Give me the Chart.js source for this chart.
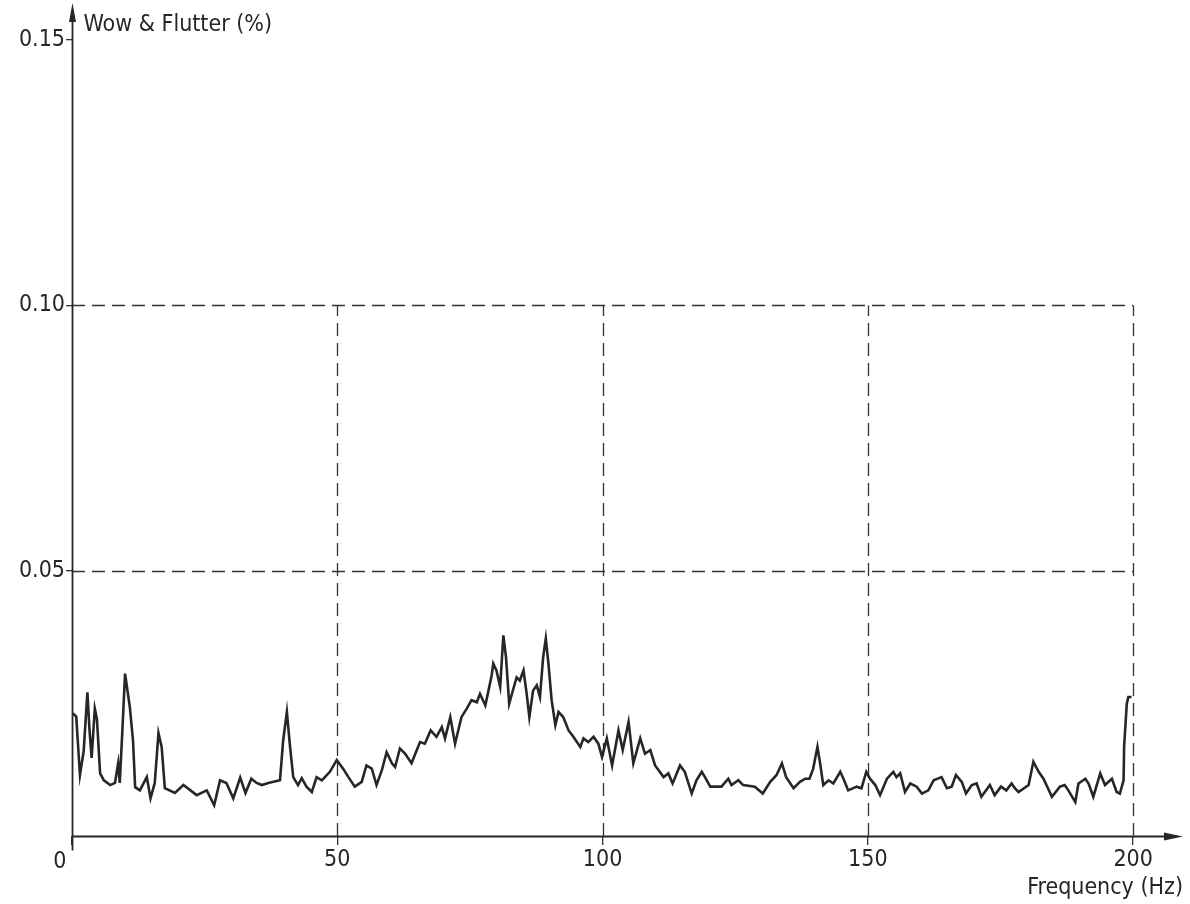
<!DOCTYPE html>
<html>
<head>
<meta charset="utf-8">
<title>Wow & Flutter spectrum</title>
<script src="https://cdn.jsdelivr.net/npm/chart.js@4"></script>
<style>
  body { margin: 0; background: #fff; }
  canvas { display: block; }
</style>
</head>
<body>
<canvas id="flutterChart" width="1190" height="904"></canvas>
<script>
// Values: frequency (Hz) and wow & flutter (%)
const freqHz = [
  0.2, 0.8, 1.5, 2.2, 2.9, 3.3, 3.7, 4.3, 4.7, 5.3, 6.0, 7.2, 8.1, 8.7, 9.0, 9.5,
  10.0, 10.9, 11.5, 11.9, 12.8, 14.1, 14.8, 15.6, 16.3, 16.9, 17.5, 19.4, 21.0, 23.5,
  25.4, 26.8, 27.9, 29.1, 30.4, 31.7, 32.7, 33.8, 34.8, 35.8, 37.0, 39.2, 39.8, 40.5,
  41.1, 41.7, 42.6, 43.3, 44.2, 45.2, 46.1, 47.1, 48.6, 49.9, 51.1, 52.1, 53.3, 54.6,
  55.5, 56.5, 57.4, 58.4, 59.3, 60.3, 60.9, 61.8, 62.8, 64.0, 64.7, 65.6, 66.5, 67.6,
  68.7, 69.7, 70.3, 71.3, 72.2, 73.4, 74.4, 75.3, 76.3, 76.9, 77.9, 78.5, 79.1, 79.4,
  80.0, 80.7, 81.3, 81.8, 82.4, 83.2, 83.8, 84.4, 85.1, 85.7, 86.2, 86.9, 87.6, 88.2,
  88.8, 89.3, 89.8, 90.4, 91.1, 91.7, 92.6, 93.6, 94.5, 95.8, 96.4, 97.3, 98.3, 99.2,
  99.9, 100.8, 101.8, 103.0, 103.8, 104.9, 105.8, 107.1, 108.0, 109.0, 109.9, 111.5,
  112.4, 113.2, 114.6, 115.5, 116.8, 117.7, 118.7, 119.3, 120.3, 122.4, 123.7, 124.3,
  125.6, 126.5, 128.7, 130.2, 131.6, 132.8, 133.8, 134.6, 136.0, 137.2, 138.2, 139.0,
  139.7, 140.5, 141.0, 141.6, 142.6, 143.5, 144.8, 145.4, 146.3, 147.9, 148.8, 149.7,
  150.4, 151.4, 152.3, 153.6, 154.8, 155.4, 156.1, 157.0, 158.0, 159.2, 160.2, 161.4,
  162.4, 163.9, 164.9, 165.8, 166.6, 167.7, 168.5, 169.6, 170.5, 171.4, 173.0, 173.9,
  175.1, 176.1, 177.1, 177.7, 178.4, 180.3, 181.2, 182.2, 183.1, 184.7, 186.2, 187.1,
  187.8, 189.1, 189.7, 191.0, 191.6, 192.5, 193.8, 194.7, 196.0, 196.9, 197.5, 198.2,
  198.3, 198.8, 199.1, 199.7
];
const flutterPct = [
  0.0231, 0.0225, 0.0115, 0.0160, 0.0271, 0.0200, 0.0147, 0.0240, 0.0220, 0.0118, 0.0105, 0.0096, 0.0100, 0.0137, 0.0100, 0.0200,
  0.0306, 0.0243, 0.0180, 0.0092, 0.0086, 0.0111, 0.0071, 0.0100, 0.0194, 0.0168, 0.0090, 0.0081, 0.0096, 0.0077,
  0.0086, 0.0058, 0.0105, 0.0100, 0.0071, 0.0110, 0.0081, 0.0108, 0.0100, 0.0096, 0.0100, 0.0105, 0.0180, 0.0234,
  0.0168, 0.0111, 0.0096, 0.0109, 0.0093, 0.0083, 0.0111, 0.0105, 0.0121, 0.0143, 0.0127, 0.0111, 0.0093, 0.0102,
  0.0133, 0.0127, 0.0096, 0.0124, 0.0158, 0.0137, 0.0130, 0.0165, 0.0155, 0.0137, 0.0155, 0.0177, 0.0174, 0.0199,
  0.0187, 0.0205, 0.0184, 0.0224, 0.0174, 0.0224, 0.0240, 0.0256, 0.0252, 0.0268, 0.0246, 0.0274, 0.0303, 0.0325,
  0.0312, 0.0281, 0.0378, 0.0337, 0.0249, 0.0278, 0.0299, 0.0293, 0.0312, 0.0268, 0.0224, 0.0274, 0.0284, 0.0262,
  0.0337, 0.0372, 0.0325, 0.0256, 0.0209, 0.0234, 0.0224, 0.0199, 0.0187, 0.0168, 0.0184, 0.0177, 0.0187, 0.0174,
  0.0149, 0.0184, 0.0133, 0.0199, 0.0162, 0.0215, 0.0137, 0.0184, 0.0155, 0.0162, 0.0133, 0.0111,
  0.0118, 0.0099, 0.0133, 0.0121, 0.0080, 0.0105, 0.0121, 0.0111, 0.0093, 0.0093, 0.0108, 0.0096,
  0.0105, 0.0096, 0.0093, 0.0080, 0.0102, 0.0115, 0.0137, 0.0111, 0.0090, 0.0102, 0.0108, 0.0108,
  0.0127, 0.0168, 0.0137, 0.0096, 0.0105, 0.0099, 0.0121, 0.0108, 0.0086, 0.0093, 0.0090, 0.0121,
  0.0108, 0.0096, 0.0077, 0.0108, 0.0121, 0.0111, 0.0118, 0.0083, 0.0099, 0.0093, 0.0080, 0.0086,
  0.0105, 0.0111, 0.0090, 0.0093, 0.0115, 0.0102, 0.0080, 0.0096, 0.0099, 0.0074, 0.0096, 0.0077,
  0.0093, 0.0086, 0.0099, 0.0090, 0.0083, 0.0096, 0.0140, 0.0121, 0.0108, 0.0074, 0.0093, 0.0096,
  0.0086, 0.0064, 0.0099, 0.0108, 0.0099, 0.0074, 0.0118, 0.0096, 0.0108, 0.0083, 0.0080, 0.0105,
  0.0168, 0.0249, 0.0262, 0.0262
];

const xTicks = [0, 50, 100, 150, 200];
const yTicks = [0.05, 0.10, 0.15];
const xGridLines = [50, 100, 150, 200];
const yGridLines = [0.05, 0.10];

const fontFamily = "'Liberation Sans Narrow', 'DejaVu Sans Condensed', 'Liberation Sans', sans-serif";
const ink = "#262626";

// axes with arrow heads, dashed grid and the extra labels
const axesPlugin = {
  id: "axesPlugin",
  beforeDatasetsDraw(chart) {
    const c = chart.ctx;
    const xs = chart.scales.x, ys = chart.scales.y;
    c.save();
    c.strokeStyle = "#333";
    c.lineWidth = 1.3;
    c.setLineDash([13, 7]);
    yGridLines.forEach(v => {
      const y = Math.round(ys.getPixelForValue(v)) + 0.5;
      c.beginPath();
      c.moveTo(xs.getPixelForValue(0), y);
      c.lineTo(xs.getPixelForValue(200), y);
      c.stroke();
    });
    xGridLines.forEach(v => {
      const x = Math.round(xs.getPixelForValue(v)) + 0.5;
      c.beginPath();
      c.moveTo(x, ys.getPixelForValue(0));
      c.lineTo(x, ys.getPixelForValue(0.10));
      c.stroke();
    });
    c.restore();
  },
  afterDraw(chart) {
    const c = chart.ctx;
    const xs = chart.scales.x, ys = chart.scales.y;
    const area = chart.chartArea;
    const x0 = Math.round(xs.getPixelForValue(0)) + 0.5;
    const y0 = Math.round(ys.getPixelForValue(0)) + 0.5;
    c.save();
    c.strokeStyle = ink;
    c.fillStyle = ink;
    c.lineWidth = 1.8;
    // x axis
    c.beginPath();
    c.moveTo(x0, y0);
    c.lineTo(area.right - 10, y0);
    c.stroke();
    c.beginPath();
    c.moveTo(area.right, y0);
    c.lineTo(area.right - 19, y0 - 4);
    c.lineTo(area.right - 19, y0 + 4);
    c.closePath();
    c.fill();
    // y axis
    c.beginPath();
    c.moveTo(x0, y0 + 14);
    c.lineTo(x0, area.top + 10);
    c.stroke();
    c.beginPath();
    c.moveTo(x0, area.top);
    c.lineTo(x0 - 3.5, area.top + 19);
    c.lineTo(x0 + 3.5, area.top + 19);
    c.closePath();
    c.fill();
    // labels
    c.font = "23px " + fontFamily;
    c.textBaseline = "alphabetic";
    c.textAlign = "left";
    c.fillText("Wow & Flutter (%)", x0 + 11, 31);
    c.textAlign = "right";
    c.fillText("0", x0 - 6, y0 + 31);
    c.restore();
  }
};

new Chart(document.getElementById("flutterChart"), {
  type: "line",
  data: {
    datasets: [{
      data: freqHz.map((f, i) => ({ x: f, y: flutterPct[i] })),
      borderColor: ink,
      borderWidth: 2.6,
      pointRadius: 0,
      tension: 0,
      fill: false
    }]
  },
  options: {
    responsive: false,
    animation: false,
    layout: { padding: { top: 3, right: 7, left: 0, bottom: 0 } },
    plugins: {
      legend: { display: false },
      tooltip: { enabled: false }
    },
    scales: {
      x: {
        type: "linear",
        min: 0,
        max: 209.4,
        afterBuildTicks: scale => { scale.ticks = xTicks.map(v => ({ value: v })); },
        afterFit: scale => { scale.height = 68; },
        border: { display: false },
        grid: { drawOnChartArea: false, drawTicks: true, tickLength: 9, color: "#333", lineWidth: 1.3 },
        ticks: {
          color: ink,
          font: { family: fontFamily, size: 23 },
          padding: 1,
          maxRotation: 0,
          callback: v => (v === 0 ? "" : v)
        },
        title: {
          display: true,
          text: "Frequency (Hz)",
          align: "end",
          color: ink,
          font: { family: fontFamily, size: 23 },
          padding: { top: 0, bottom: 2 }
        }
      },
      y: {
        min: 0,
        max: 0.157,
        afterBuildTicks: scale => { scale.ticks = yTicks.map(v => ({ value: v })); },
        afterFit: scale => {
          scale.width = 72;
          // the top label sits well below the arrow, no extra room needed
          scale.paddingTop = 0;
          scale.paddingBottom = 0;
        },
        border: { display: false },
        grid: { drawOnChartArea: false, drawTicks: true, tickLength: 6, color: "#333", lineWidth: 1.3 },
        ticks: {
          color: ink,
          font: { family: fontFamily, size: 23 },
          padding: 1,
          callback: v => v.toFixed(2)
        }
      }
    }
  },
  plugins: [axesPlugin]
});
</script>
</body>
</html>
